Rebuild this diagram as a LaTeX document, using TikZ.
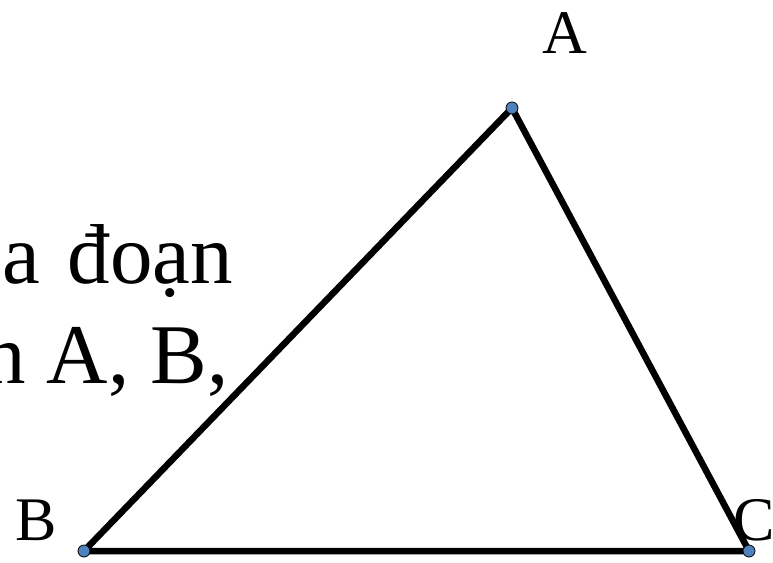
\documentclass[tikz,border=0pt]{standalone}
\usepackage{fontspec}
\setmainfont{Liberation Serif}
\definecolor{dotblue}{HTML}{4F81BD}
\begin{document}
\begin{tikzpicture}[x=1pt,y=-1pt,
  side/.style={line width=6.5pt,line cap=round,line join=round},
  vdot/.style={circle,fill=dotblue,draw=black,line width=0.8pt,inner sep=0pt,minimum size=12pt},
  vlabel/.style={font=\fontsize{62}{62}\selectfont,inner sep=0pt},
  body/.style={font=\fontsize{85}{85}\selectfont,inner sep=0pt,anchor=base east}]
\useasboundingbox (0,0) rectangle (773,562);
\clip (0,0) rectangle (773,562);
\node[body] (t1) at (233,283) {a\hspace{6pt} đoạn};
\node[body] (t2) at (229,383) {n A, B,};
\coordinate (A) at (512,108);
\coordinate (B) at (84,551);
\coordinate (C) at (749,551);
\draw[side] (A) -- (B) -- (C) -- cycle;
\node[vdot] (dA) at (A) {};
\node[vdot] (dB) at (B) {};
\node[vdot] (dC) at (C) {};
\node[vlabel,anchor=base] (lA) at (565,53) {A};
\node[vlabel,anchor=base] (lB) at (36,540) {B};
\node[vlabel,anchor=base west] (lC) at (733,540) {C};
\end{tikzpicture}
\end{document}
